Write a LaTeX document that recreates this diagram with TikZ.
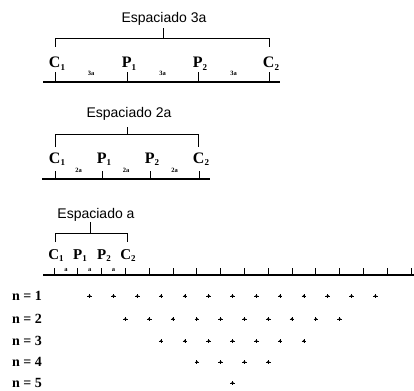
\documentclass[tikz,border=0pt]{standalone}
\usepackage{fontspec}
\setmainfont{Liberation Serif}
\newfontfamily\labfont{Liberation Sans}
\newcommand{\sbx}[1]{\raisebox{-0.15em}{\fontsize{9}{9}\selectfont #1}}
\begin{document}
\begin{tikzpicture}[x=1pt,y=-1pt,
  axis/.style={line width=1.2pt},
  tk/.style={line width=0.9pt},
  brk/.style={line width=1pt},
  ttl/.style={font=\labfont\fontsize{14}{14}\selectfont, anchor=base, inner sep=0},
  lbl/.style={font=\bfseries\fontsize{16}{16}\selectfont, anchor=base, inner sep=0},
  lbls/.style={font=\bfseries\fontsize{15}{15}\selectfont, anchor=base, inner sep=0},
  sml/.style={font=\bfseries\fontsize{6.5}{6.5}\selectfont, inner sep=0},
  nlab/.style={font=\bfseries\fontsize{14}{14}\selectfont, anchor=base west, inner sep=0},
  dotpt/.style={circle, fill, inner sep=0, minimum size=2.6pt},
]
\useasboundingbox (0,0) rectangle (414,390);

% ---------- Espaciado 3a ----------
\node[ttl] (T3) at (164,23) {Espaciado 3a};
\foreach \x [count=\i] in {55,127,198,269} \coordinate (a\i) at (\x,82);
\coordinate (aL) at (43,82); \coordinate (aR) at (280,82);
\draw[axis] (aL) -- (aR);
\foreach \i in {1,...,4} \draw[tk] (a\i) -- ++(0,-10);
\node[lbl] (aC1) at (57,68) {C\sbx{1}};
\node[lbl] (aP1) at (129,68) {P\sbx{1}};
\node[lbl] (aP2) at (200,68) {P\sbx{2}};
\node[lbl] (aC2) at (271,68) {C\sbx{2}};
\node[sml] (as1) at (91,73) {3a};
\node[sml] (as2) at (162.5,73) {3a};
\node[sml] (as3) at (233.5,73) {3a};
\coordinate (ab) at (163,39);
\draw[brk] (55,47) -- (55,39) -- (269,39) -- (269,47);
\draw[brk] (ab) -- (163,28);

% ---------- Espaciado 2a ----------
\node[ttl] (T2) at (129,118) {Espaciado 2a};
\foreach \x [count=\i] in {55,102,150,199} \coordinate (b\i) at (\x,179);
\coordinate (bL) at (42,179); \coordinate (bR) at (210,179);
\draw[axis] (bL) -- (bR);
\foreach \i in {1,...,4} \draw[tk] (b\i) -- ++(0,-8);
\node[lbl] (bC1) at (57,163) {C\sbx{1}};
\node[lbl] (bP1) at (104,163) {P\sbx{1}};
\node[lbl] (bP2) at (152,163) {P\sbx{2}};
\node[lbl] (bC2) at (201,163) {C\sbx{2}};
\node[sml] (bs1) at (78.5,170) {2a};
\node[sml] (bs2) at (126,170) {2a};
\node[sml] (bs3) at (174.5,170) {2a};
\coordinate (bb) at (127,135);
\draw[brk] (55,147) -- (55,135) -- (198,135) -- (198,147);
\draw[brk] (bb) -- (127,127);

% ---------- Espaciado a ----------
\node[ttl] (T1) at (96,218) {Espaciado a};
\coordinate (cL) at (43,275); \coordinate (cR) at (414,275);
\draw[axis] (cL) -- (cR);
\foreach \k in {0,...,15} {
  \coordinate (c\k) at ({54+23.8*\k},275);
  \draw[tk] (c\k) -- ++(0,-7);
}
\node[lbls] (cC1) at (56,259) {C\sbx{1}};
\node[lbls] (cP1) at (80,259) {P\sbx{1}};
\node[lbls] (cP2) at (104,259) {P\sbx{2}};
\node[lbls] (cC2) at (128,259) {C\sbx{2}};
\foreach \k in {0,1,2} \node[sml] (cs\k) at ({65.9+23.8*\k},270) {a};
\coordinate (cb) at (90,233);
\draw[brk] (55,242) -- (55,233) -- (127,233) -- (127,242);
\draw[brk] (cb) -- (90,222);

% ---------- rows ----------
\foreach \n/\y in {1/296,2/319,3/341,4/362,5/383} {
  \node[nlab] (n\n) at (12,\y+4.5) {n = \n};
  \pgfmathtruncatemacro{\cnt}{16-3*\n}
  \foreach \j in {1,...,\cnt} {
    \pgfmathsetmacro{\xx}{54+23.8*(1.5*\n+\j-1)}
    \node[dotpt] (d\n-\j) at (\xx,\y) {};
    \draw[line width=0.8pt] (\xx-2.3,\y) -- (\xx+2.3,\y) (\xx,\y-1.9) -- (\xx,\y+1.9);
  }
}
\end{tikzpicture}
\end{document}
